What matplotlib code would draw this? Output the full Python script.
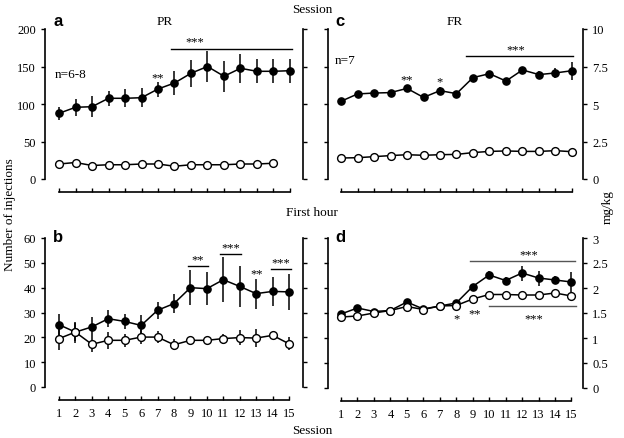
import matplotlib
matplotlib.use('Agg')
import matplotlib.pyplot as plt

plt.rcParams['font.family'] = ['Liberation Serif', 'DejaVu Serif']
plt.rcParams['font.size'] = 9

sessions = list(range(1, 16))

# Panel a: PR, number of injections (session)
pr_active = [87.6, 95.6, 96.4, 107.6, 107.6, 108.4, 120, 128, 141, 150, 137, 147.6, 143.6, 143.6, 144.4]
pr_active_err = [9, 11, 14, 10, 12, 13, 10, 16, 18, 21, 21, 19, 16, 16, 16]
pr_inactive = [20, 22, 18, 19, 19, 20, 20, 17, 19, 19, 19, 20, 20, 21]  # sessions 1-14

# Panel b: PR, first hour
pr1h_active = [25.1, 22.1, 24.2, 27.5, 26.4, 24.8, 30.9, 33.6, 40.0, 39.6, 43.2, 40.5, 37.6, 38.5, 38.3]
pr1h_active_err = [4.2, 4.2, 4.0, 3.4, 3.0, 4.0, 3.5, 4.0, 7.0, 6.7, 9.0, 8.4, 6.0, 5.8, 7.2]
pr1h_inactive = [19.5, 22.1, 17.2, 18.8, 18.8, 20.1, 20.1, 17.0, 18.8, 18.8, 19.5, 19.9, 19.7, 20.8, 17.4]
pr1h_inactive_err = [4.7, 3.5, 3.0, 3.3, 2.7, 2.7, 2.5, 2.3, 1.5, 1.5, 2.0, 3.0, 3.5, 1.5, 2.7]

# Panel c: FR, mg/kg (session)
fr_active = [5.18, 5.67, 5.73, 5.76, 6.04, 5.44, 5.89, 5.69, 6.76, 7.02, 6.53, 7.27, 6.96, 7.07, 7.22]
fr_active_err = [0.12, 0.15, 0.12, 0.2, 0.22, 0.15, 0.25, 0.15, 0.12, 0.12, 0.15, 0.15, 0.25, 0.35, 0.6]
fr_inactive = [1.40, 1.42, 1.49, 1.56, 1.62, 1.58, 1.62, 1.64, 1.76, 1.84, 1.87, 1.84, 1.84, 1.89, 1.82]

# Panel d: FR, first hour
fr1h_active = [1.48, 1.60, 1.53, 1.55, 1.72, 1.58, 1.64, 1.70, 2.03, 2.26, 2.15, 2.30, 2.20, 2.16, 2.12]
fr1h_active_err = [0.05, 0.05, 0.06, 0.04, 0.05, 0.04, 0.04, 0.05, 0.05, 0.08, 0.08, 0.15, 0.15, 0.08, 0.2]
fr1h_inactive = [1.42, 1.44, 1.50, 1.55, 1.63, 1.57, 1.64, 1.65, 1.78, 1.87, 1.87, 1.86, 1.86, 1.90, 1.84]

W, H = 624, 439
fig = plt.figure(figsize=(W / 100, H / 100), dpi=100)


def add_ax(x0, x1, ytop, ybot):
    return fig.add_axes([x0 / W, 1 - ybot / H, (x1 - x0) / W, (ybot - ytop) / H])


def setup(ax, xlim, ylim, yticks, yticklabels, left_lab, right_lab, bottom_lab):
    ax.set_xlim(*xlim)
    ax.set_ylim(*ylim)
    ax.patch.set_visible(False)
    ax.spines['top'].set_visible(False)
    ax.spines['bottom'].set_position(('outward', 9.5))
    ax.spines['bottom'].set_bounds(1, 15)
    ax.spines['left'].set_bounds(*ylim)
    ax.spines['right'].set_bounds(*ylim)
    for s in ax.spines.values():
        s.set_linewidth(1.2)
    ax.set_xticks(sessions)
    ax.set_xticklabels([str(s) for s in sessions])
    ax.tick_params(axis='x', direction='in', length=3, width=1.0, labelbottom=bottom_lab, pad=5)
    ax.set_yticks(yticks)
    ax.set_yticklabels(yticklabels)
    ax.tick_params(axis='y', direction='out', length=3, width=1.0, left=True, right=True,
                   labelleft=left_lab, labelright=right_lab, pad=3.5)


def plot_series(ax, y, yerr, x=None, filled=True):
    if x is None:
        x = sessions[:len(y)]
    ax.errorbar(x, y, yerr=yerr, fmt='-o', color='black', ecolor='black', elinewidth=1.1,
                capsize=0, lw=1.1, ms=5.2 if filled else 5.6,
                mfc='black' if filled else 'white', mec='black', mew=1.0,
                clip_on=False, zorder=3 if filled else 4)


def sig_line(ax, x0, x1, y, color='black'):
    ax.plot([x0, x1], [y, y], color=color, lw=1.0, clip_on=False)


# Panel a
ax_a = add_ax(45, 303, 30, 180)
setup(ax_a, (0.15, 15.79), (0, 200), [0, 50, 100, 150, 200], ['0', '50', '100', '150', '200'],
      True, False, False)
plot_series(ax_a, pr_active, pr_active_err, filled=True)
plot_series(ax_a, pr_inactive, None, filled=False)
sig_line(ax_a, 7.8, 15.1, 174)
ax_a.text(9.2, 175, '***', ha='center', va='bottom', fontsize=9)
ax_a.text(7.0, 128, '**', ha='center', va='bottom', fontsize=9)
ax_a.text(0.75, 140, 'n=6-8', ha='left', va='center', fontsize=9.5)

# Panel b
ax_b = add_ax(45, 303, 239, 388)
setup(ax_b, (0.15, 15.85), (0, 60), [0, 10, 20, 30, 40, 50, 60],
      ['0', '10', '20', '30', '40', '50', '60'], True, False, True)
plot_series(ax_b, pr1h_inactive, pr1h_inactive_err, filled=False)
plot_series(ax_b, pr1h_active, pr1h_active_err, filled=True)
sig_line(ax_b, 8.85, 10.05, 48.7)
ax_b.text(9.45, 48.9, '**', ha='center', va='bottom', fontsize=9)
sig_line(ax_b, 10.8, 12.1, 53.7)
ax_b.text(11.45, 53.9, '***', ha='center', va='bottom', fontsize=9)
ax_b.text(13.0, 43.5, '**', ha='center', va='bottom', fontsize=9)
sig_line(ax_b, 13.9, 15.1, 47.6)
ax_b.text(14.5, 47.8, '***', ha='center', va='bottom', fontsize=9)

# Panel c
ax_c = add_ax(328, 583, 30, 180)
setup(ax_c, (0.21, 15.67), (0, 10), [0, 2.5, 5, 7.5, 10], ['0', '2.5', '5', '7.5', '10'],
      False, True, False)
plot_series(ax_c, fr_active, fr_active_err, filled=True)
plot_series(ax_c, fr_inactive, None, filled=False)
sig_line(ax_c, 8.6, 15.05, 8.2)
ax_c.text(11.6, 8.25, '***', ha='center', va='bottom', fontsize=9)
ax_c.text(5.0, 6.25, '**', ha='center', va='bottom', fontsize=9)
ax_c.text(7.0, 6.1, '*', ha='center', va='bottom', fontsize=9)
ax_c.text(0.6, 7.9, 'n=7', ha='left', va='center', fontsize=9.5)

# Panel d
ax_d = add_ax(328, 583, 239, 389)
setup(ax_d, (0.21, 15.7), (0, 3), [0, 0.5, 1, 1.5, 2, 2.5, 3],
      ['0', '0.5', '1', '1.5', '2', '2.5', '3'], False, True, True)
plot_series(ax_d, fr1h_active, fr1h_active_err, filled=True)
plot_series(ax_d, fr1h_inactive, None, filled=False)
sig_line(ax_d, 8.85, 15.2, 2.54, color='#555555')
ax_d.text(12.4, 2.56, '***', ha='center', va='bottom', fontsize=9)
sig_line(ax_d, 10.0, 15.3, 1.64, color='#555555')
ax_d.text(12.7, 1.52, '***', ha='center', va='top', fontsize=9)
ax_d.text(8.0, 1.52, '*', ha='center', va='top', fontsize=9)
ax_d.text(9.1, 1.62, '**', ha='center', va='top', fontsize=9)

# Figure texts
def ftext(x, y, s, **kw):
    fig.text(x / W, 1 - y / H, s, **kw)

ftext(312, 10, 'Session', ha='center', va='center', fontsize=9.5)
ftext(312, 213, 'First hour', ha='center', va='center', fontsize=9.5)
ftext(312, 431, 'Session', ha='center', va='center', fontsize=9.5)
ftext(165, 22, 'PR', ha='center', va='center', fontsize=9.5)
ftext(455, 22, 'FR', ha='center', va='center', fontsize=9.5)
ftext(10, 215, 'Number of injections', ha='center', va='center', rotation=90, fontsize=9.5)
ftext(608, 207, 'mg/kg', ha='center', va='center', rotation=90, fontsize=9.5)
for (x, y, s) in [(58, 22, 'a'), (58, 238, 'b'), (340, 22, 'c'), (340, 238, 'd')]:
    ftext(x, y, s, ha='center', va='center', fontsize=12, fontweight='bold',
          family=['Liberation Sans', 'DejaVu Sans'])

fig.savefig('out.png', dpi=100)
